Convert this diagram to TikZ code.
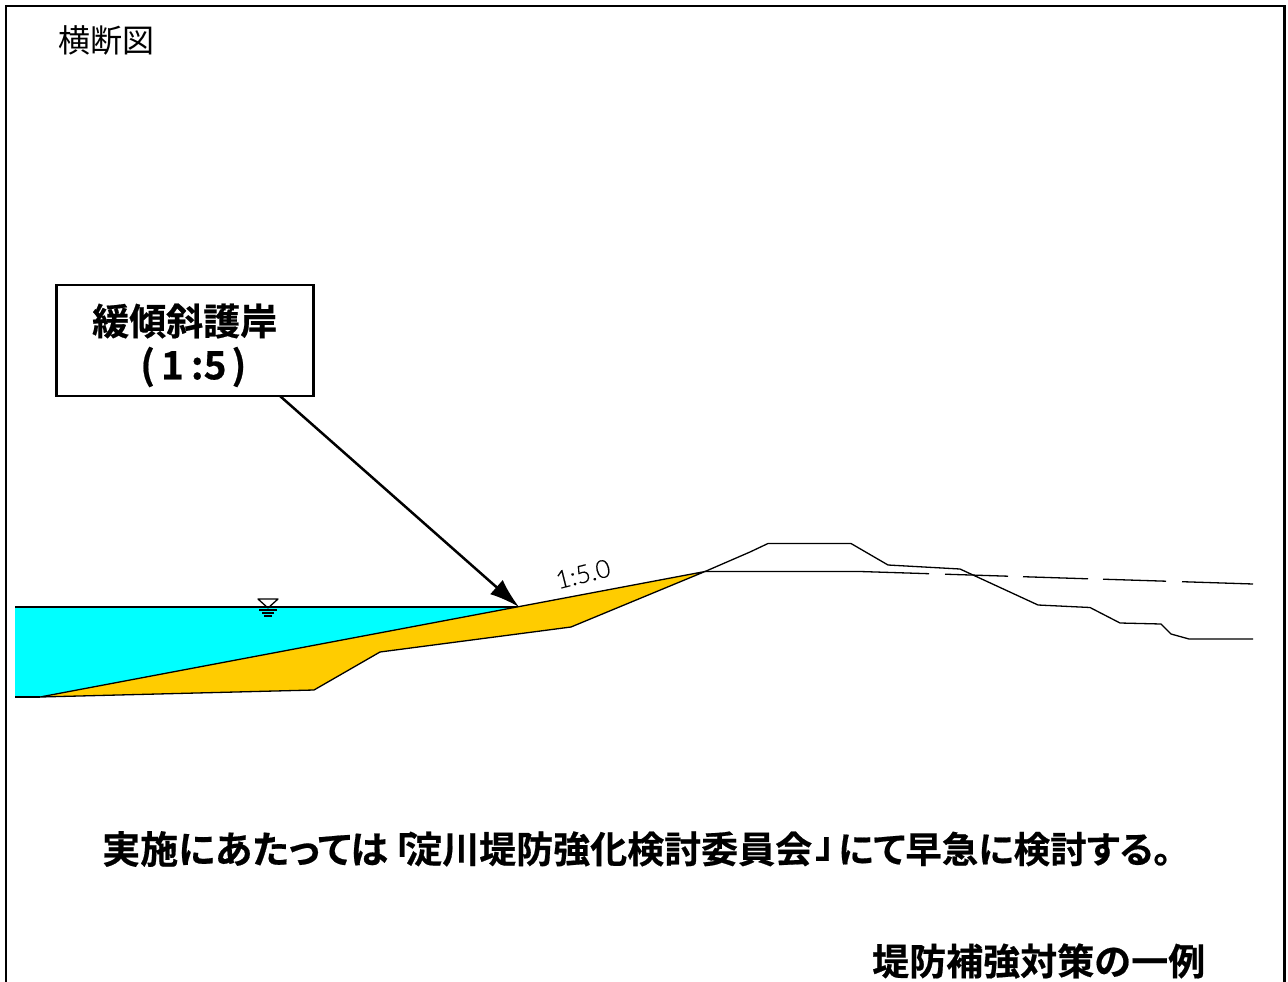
\documentclass[tikz,border=0pt]{standalone}
\usepackage{fontspec}
\usetikzlibrary{arrows.meta}
\setmainfont{Noto Sans CJK JP}[BoldFont={Noto Sans CJK JP Bold},BoldFeatures={FakeBold=0.5}]
\newfontfamily\slopefont{Lato Light}[FakeBold=0.3]
\newfontfamily\paltfont{Noto Sans CJK JP Bold}[RawFeature={+palt},FakeBold=0.5]
\definecolor{water}{RGB}{0,255,255}
\definecolor{armor}{RGB}{255,204,0}
\tikzset{
  line/.style={draw=black,line width=1.3pt,line join=round},
  callout/.style={draw=black,line width=2.2pt,fill=white},
  boldtext/.style={font=\bfseries\fontsize{#1}{#1}\selectfont,inner sep=0pt,anchor=west},
  palttext/.style={font=\paltfont\fontsize{#1}{#1}\selectfont,inner sep=0pt,anchor=west},
  plaintext/.style={font=\fontsize{#1}{#1}\selectfont,inner sep=0pt,anchor=west},
}
\begin{document}
\begin{tikzpicture}[x=1pt,y=-1pt]
\useasboundingbox (0,0) rectangle (1288,982);
% frame
\coordinate (fbl) at (6,982);
\coordinate (ftl) at (6,6);
\coordinate (ftr) at (1284.5,6);
\coordinate (fbr) at (1284.5,982);
\draw[line width=2.8pt] (fbl) -- (ftl) -- (ftr) -- (fbr);
% water
\fill[water] (15,607) -- (519,607) -- (40,697) -- (15,697) -- cycle;
\draw[line] (15,607) -- (519,607);
\draw[line] (15,697) -- (40,697);
% armour
\path[fill=armor,line] (40,697) -- (705,571.5) -- (571,627) -- (380,652) -- (314,690) -- cycle;
% levee
\draw[line] (705,571.5) -- (750,552) -- (768,543.5) -- (851,543.5) -- (888,565) -- (960,569) -- (1038,605) -- (1090,607.5) -- (1120,623) -- (1161,624) -- (1171,634) -- (1189,639) -- (1253,639);
% old surface
\draw[line] (705,571.5) -- (860,571.5) -- (929,573.7) (945,574.2) -- (1008,576.2) (1023,576.7) -- (1088,578.8) (1103,579.2) -- (1166,581.2) (1182,581.7) -- (1253,584);
% water mark
\draw[line] (258,599) -- (278,599) -- (268,608) -- cycle;
\draw[line] (259,610) -- (277,610) (262,613) -- (274,613) (264,616) -- (272,616);
% slope label
\node[inner sep=0pt,rotate=14,font=\slopefont\fontsize{25}{25}\selectfont] (slope) at (583,574) {1:5.0};
% callout
\node[callout,minimum width=257pt,minimum height=111pt,inner sep=0pt] (box) at (185,340.5) {};
\node[boldtext=37pt] (t1) at (92,321) {緩傾斜護岸};
\node[boldtext=39pt] (t2) at (140,367) {(\hspace{6pt}1\hspace{7pt}:5\hspace{5pt})};
\coordinate (tip) at (519,607);
\draw[line width=2.5pt,-{Latex[length=30pt,width=19pt]}] (280,396) -- (tip);
% texts
\node[plaintext=32pt] (title) at (58,40) {横断図};
\node[palttext=38pt] (m1) at (102,849) {実施にあたっては};
\node[boldtext=37pt] (m1b) at (376,849) {「};
\node[boldtext=37pt] (m2) at (405,849) {淀川堤防強化検討委員会};
\node[boldtext=37pt] (m3) at (815,849) {」};
\node[palttext=36.5pt] (m4) at (838,849) {にて早急に検討する。};
\node[boldtext=37pt] (c) at (872,961) {堤防補強対策の一例};
\end{tikzpicture}
\end{document}
